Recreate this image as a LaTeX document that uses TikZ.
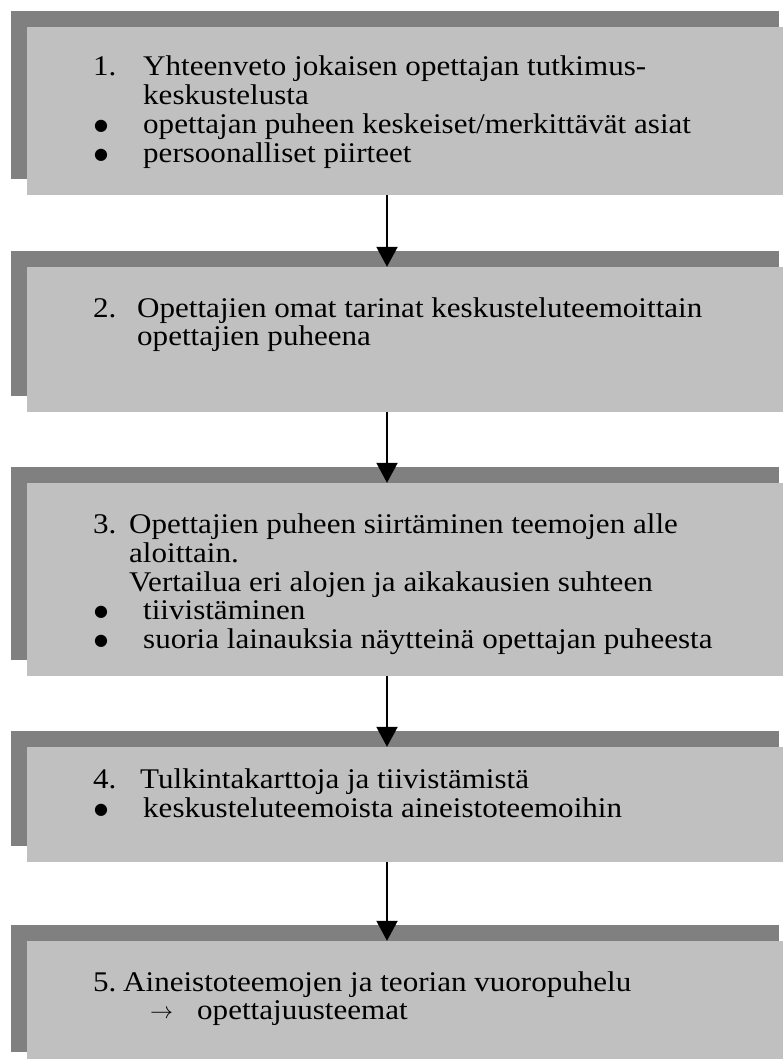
\documentclass[tikz,border=0pt]{standalone}
\usepackage{fontspec}
\usepackage{graphicx}
\setmainfont{Liberation Serif}[FakeStretch=1.09]
\newfontfamily\symfont{DejaVu Sans}
\usetikzlibrary{arrows.meta,shadows}
\definecolor{panelgray}{RGB}{192,192,192}
\definecolor{edgegray}{RGB}{128,128,128}
\begin{document}
\begin{tikzpicture}[x=1pt,y=-1pt,
  panel/.style={rectangle, fill=panelgray, minimum width=768pt, inner sep=0pt,
    general shadow={fill=edgegray, shadow xshift=-16pt, shadow yshift=16pt}},
  txt/.style={anchor=base west, inner sep=0pt, font=\fontsize{28.5}{29}\selectfont},
  dot/.style={anchor=base, inner sep=0pt, font=\symfont\fontsize{16}{16}\selectfont},
  flow/.style={line width=2pt, -{Triangle[width=21pt,length=20pt]}}]
\useasboundingbox (0,0) rectangle (783,1059);

% stage panels
\node[panel, minimum height=168pt] (b1) at (411,111) {};
\node[panel, minimum height=145pt] (b2) at (411,339.5) {};
\node[panel, minimum height=193pt] (b3) at (411,579.5) {};
\node[panel, minimum height=115pt] (b4) at (411,804.5) {};
\node[panel, minimum height=127pt] (b5) at (411,1004.5) {};

% stage 1
\node[txt] (n1)  at (93,76)   {1.};
\node[txt] (t1a) at (143,76)  {Yhteenveto jokaisen opettajan tutkimus-};
\node[txt] (t1b) at (143,105) {keskustelusta};
\node[dot] (p1a) at (101,131) {●};
\node[txt] (t1c) at (143,134) {opettajan puheen keskeiset/merkittävät asiat};
\node[dot] (p1b) at (101,160) {●};
\node[txt] (t1d) at (143,163) {persoonalliset piirteet};

% stage 2
\node[txt] (n2)  at (93,317)  {2.};
\node[txt] (t2a) at (137,317) {Opettajien omat tarinat keskusteluteemoittain};
\node[txt] (t2b) at (137,345) {opettajien puheena};

% stage 3
\node[txt] (n3)  at (93,533)  {3.};
\node[txt] (t3a) at (129,533) {Opettajien puheen siirtäminen teemojen alle};
\node[txt] (t3b) at (129,562) {aloittain.};
\node[txt] (t3c) at (129,591) {Vertailua eri alojen ja aikakausien suhteen};
\node[dot] (p3a) at (101,616) {●};
\node[txt] (t3d) at (143,619) {tiivistäminen};
\node[dot] (p3b) at (101,645) {●};
\node[txt] (t3e) at (143,648) {suoria lainauksia näytteinä opettajan puheesta};

% stage 4
\node[txt] (n4)  at (93,788)  {4.};
\node[txt] (t4a) at (140,788) {Tulkintakarttoja ja tiivistämistä};
\node[dot] (p4a) at (101,814) {●};
\node[txt] (t4b) at (143,817) {keskusteluteemoista aineistoteemoihin};

% stage 5
\node[txt] (n5)  at (93,991)  {5.};
\node[txt] (t5a) at (123,991) {Aineistoteemojen ja teorian vuoropuhelu};
\node[anchor=base west, inner sep=0pt] (r5) at (150,1018) {\scalebox{2.3}{$\rightarrow$}};
\node[txt] (t5b) at (197,1019) {opettajuusteemat};

% connectors between stages
\coordinate (axis) at (387,0);
\draw[flow] (b1.south -| axis) -- (b2.north -| axis);
\draw[flow] (b2.south -| axis) -- (b3.north -| axis);
\draw[flow] (b3.south -| axis) -- (b4.north -| axis);
\draw[flow] (b4.south -| axis) -- (b5.north -| axis);
\end{tikzpicture}
\end{document}
